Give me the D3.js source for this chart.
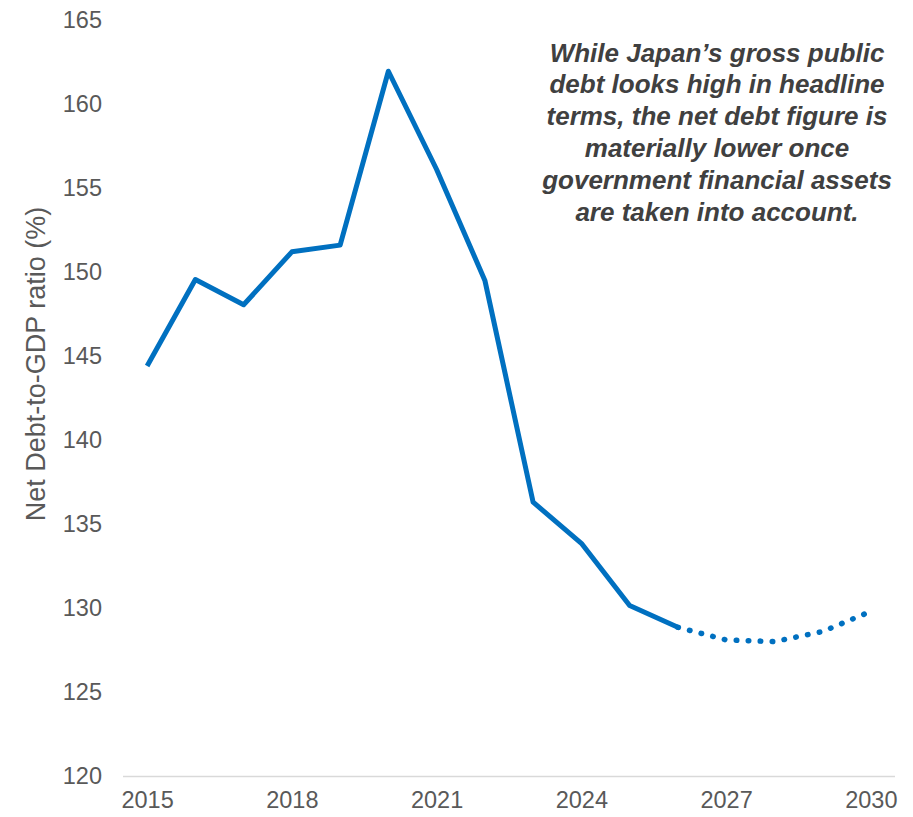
<!DOCTYPE html>
<html>
<head>
<meta charset="utf-8">
<script src="https://cdn.jsdelivr.net/npm/d3@7"></script>
<style>
  html, body { margin: 0; padding: 0; background: #fff; }
  svg { display: block; font-family: Arial, "Liberation Sans", sans-serif; }
</style>
</head>
<body>
<div id="chart"></div>
<script>
// data
const years = [2015, 2016, 2017, 2018, 2019, 2020, 2021, 2022, 2023, 2024, 2025, 2026, 2027, 2028, 2029, 2030];
const netDebt = [144.4, 149.55, 148.05, 151.2, 151.6, 161.95, 156.1, 149.5, 136.3, 133.85, 130.15, 128.85, 128.1, 128.0, 128.6, 129.8];
const lastActual = 2026;  // solid up to here, dotted after
const yTicks = [120, 125, 130, 135, 140, 145, 150, 155, 160, 165];
const xTickYears = [2015, 2018, 2021, 2024, 2027, 2030];
const note = [
  'While Japan\u2019s gross public',
  'debt looks high in headline',
  'terms, the net debt figure is',
  'materially lower once',
  'government financial assets',
  'are taken into account.'
];

const width = 913, height = 817;
const margin = {top: 20, right: 18, bottom: 41, left: 123};
const cw = width - margin.left - margin.right,
      ch = height - margin.top - margin.bottom;

const blue = '#0070C0', grey = '#595959';
const font = 'Arial, "Liberation Sans", sans-serif';

const svg = d3.select('#chart').append('svg')
  .attr('width', width).attr('height', height);

const x = d3.scalePoint().domain(years).range([0, cw]).padding(0.5);
const y = d3.scaleLinear().domain([120, 165]).range([ch, 0]);

const g = svg.append('g').attr('transform', `translate(${margin.left},${margin.top})`);

// y tick labels (no axis line)
g.append('g')
  .call(d3.axisLeft(y).tickValues(yTicks).tickSize(0).tickPadding(21))
  .call(a => a.select('.domain').remove())
  .selectAll('text')
  .attr('fill', grey).attr('font-size', 23.5).attr('font-family', font);

// x axis
const xa = g.append('g').attr('transform', `translate(0,${ch})`)
  .call(d3.axisBottom(x).tickValues(xTickYears).tickSize(0).tickPadding(15));
xa.select('.domain').attr('stroke', '#d9d9d9').attr('stroke-width', 1.5)
  .attr('d', `M0,0.5H${cw}`);
xa.selectAll('text')
  .attr('fill', grey).attr('font-size', 23.5).attr('font-family', font);

// y title
svg.append('text')
  .attr('transform', `translate(45,364) rotate(-90)`)
  .attr('text-anchor', 'middle')
  .attr('fill', grey).attr('font-size', 27)
  .text('Net Debt-to-GDP ratio (%)');

const pts = years.map((yr, i) => ({yr, v: netDebt[i]}));
const line = d3.line().x(d => x(d.yr)).y(d => y(d.v));

g.append('path')
  .datum(pts.filter(d => d.yr <= lastActual))
  .attr('d', line)
  .attr('fill', 'none').attr('stroke', blue).attr('stroke-width', 5)
  .attr('stroke-linejoin', 'round');

g.append('path')
  .datum(pts.filter(d => d.yr >= lastActual))
  .attr('d', line)
  .attr('fill', 'none').attr('stroke', blue).attr('stroke-width', 5.5)
  .attr('stroke-linecap', 'round')
  .attr('stroke-dasharray', '0.5 11.5')
  .attr('stroke-dashoffset', -12);

// annotation
svg.append('g').attr('class', 'note')
  .selectAll('text').data(note)
  .join('text')
  .attr('x', 717).attr('y', (d, i) => 61.5 + i * 31.8)
  .attr('text-anchor', 'middle')
  .attr('fill', '#404040').attr('font-size', 26).attr('font-family', font)
  .attr('font-weight', 'bold').attr('font-style', 'italic')
  .text(d => d);
</script>
</body>
</html>
